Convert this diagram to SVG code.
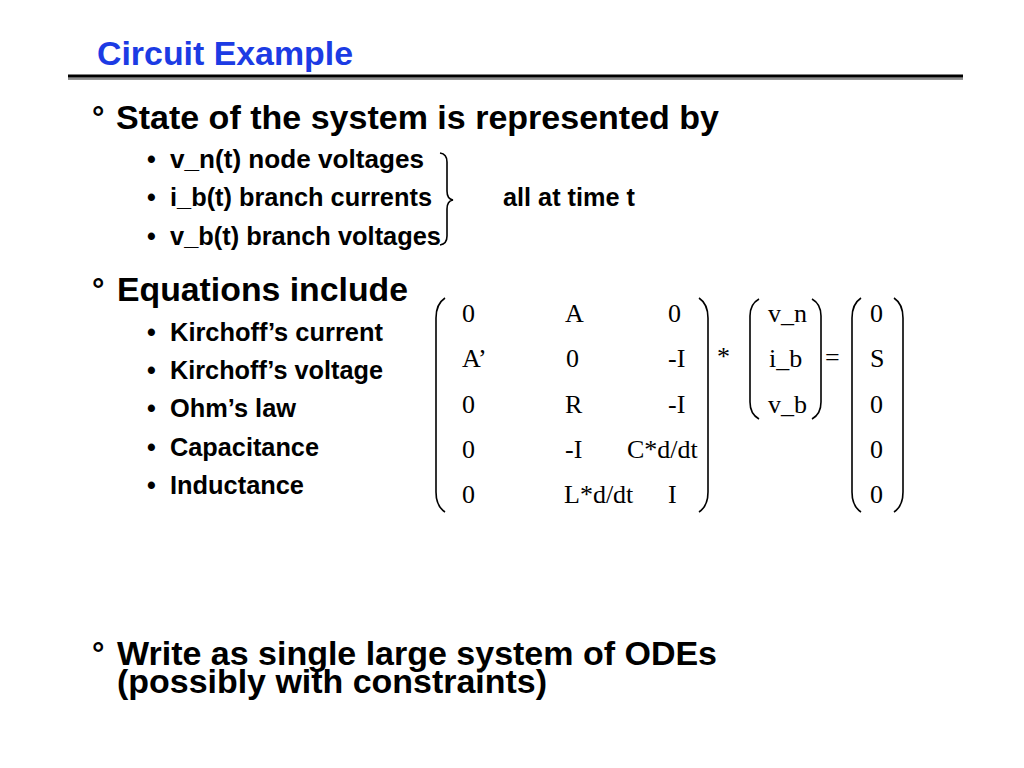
<svg xmlns="http://www.w3.org/2000/svg" width="1024" height="768" viewBox="0 0 1024 768">
<style>
.t{font-family:"Liberation Sans",Arial,sans-serif;font-weight:bold;fill:#000}
.h{font-size:33px}
.d{font-size:31px}
.s{font-size:25px}
.m{font-family:"Liberation Serif","Times New Roman",serif;font-size:26px;fill:#000}
.p{fill:none;stroke:#000;stroke-width:1.6}
</style>
<rect width="1024" height="768" fill="#fff"/>
<g id="title">
<text x="97" y="65" font-family="Liberation Sans,Arial,sans-serif" font-weight="bold" font-size="34" fill="#1c3be4" textLength="256" lengthAdjust="spacingAndGlyphs">Circuit Example</text>
<rect x="68" y="74.5" width="895" height="3.2" fill="#000"/>
<rect x="68" y="77.7" width="895" height="2.2" fill="#8a8a8a"/>
</g>
<g id="bullet1">
<text class="t d" x="92" y="128">°</text>
<text class="t h" x="116" y="129" textLength="603" lengthAdjust="spacingAndGlyphs">State of the system is represented by</text>
<text class="t s" x="147" y="168">•</text>
<text class="t s" x="170" y="168" textLength="254" lengthAdjust="spacingAndGlyphs">v_n(t)  node voltages</text>
<text class="t s" x="147" y="206">•</text>
<text class="t s" x="170" y="206" textLength="262" lengthAdjust="spacingAndGlyphs">i_b(t) branch currents</text>
<text class="t s" x="147" y="245">•</text>
<text class="t s" x="170" y="245" textLength="271" lengthAdjust="spacingAndGlyphs">v_b(t) branch voltages</text>
<path class="p" d="M440 153 Q447 154 447 162 L447 191 Q447 199 453 200 Q447 201 447 209 L447 236 Q447 244 440 245"/>
<text class="t s" x="503" y="206" textLength="132" lengthAdjust="spacingAndGlyphs">all at time t</text>
</g>
<g id="bullet2">
<text class="t d" x="92" y="300">°</text>
<text class="t h" x="117" y="301" textLength="291" lengthAdjust="spacingAndGlyphs">Equations include</text>
<text class="t s" x="147" y="341">•</text>
<text class="t s" x="170" y="341" textLength="213" lengthAdjust="spacingAndGlyphs">Kirchoff’s current</text>
<text class="t s" x="147" y="379">•</text>
<text class="t s" x="170" y="379" textLength="213" lengthAdjust="spacingAndGlyphs">Kirchoff’s voltage</text>
<text class="t s" x="147" y="417">•</text>
<text class="t s" x="170" y="417" textLength="126" lengthAdjust="spacingAndGlyphs">Ohm’s law</text>
<text class="t s" x="147" y="456">•</text>
<text class="t s" x="170" y="456" textLength="149" lengthAdjust="spacingAndGlyphs">Capacitance</text>
<text class="t s" x="147" y="494">•</text>
<text class="t s" x="170" y="494" textLength="134" lengthAdjust="spacingAndGlyphs">Inductance</text>
</g>
<g id="matrix">
<path class="p" d="M445 298 Q436 304 436 318 L436 492 Q436 506 445 512"/>
<path class="p" d="M699 298 Q708 304 708 318 L708 492 Q708 506 699 512"/>
<text class="m" x="462" y="322">0</text>
<text class="m" x="565" y="322">A</text>
<text class="m" x="668" y="322">0</text>
<text class="m" x="462" y="367">A’</text>
<text class="m" x="566" y="367">0</text>
<text class="m" x="668" y="367">-I</text>
<text class="m" x="462" y="413">0</text>
<text class="m" x="565" y="413">R</text>
<text class="m" x="668" y="413">-I</text>
<text class="m" x="462" y="458">0</text>
<text class="m" x="565" y="458">-I</text>
<text class="m" x="627" y="458">C*d/dt</text>
<text class="m" x="462" y="503">0</text>
<text class="m" x="564" y="503">L*d/dt</text>
<text class="m" x="668" y="503">I</text>
</g>
<g id="times">
<text class="m" x="717" y="365">*</text>
</g>
<g id="vector">
<path class="p" d="M759 299 Q750 304 750 316 L750 402 Q750 414 759 419"/>
<path class="p" d="M812 299 Q821 304 821 316 L821 402 Q821 414 812 419"/>
<text class="m" x="768" y="322">v_n</text>
<text class="m" x="769" y="367">i_b</text>
<text class="m" x="768" y="413">v_b</text>
</g>
<g id="equals">
<text class="m" x="825" y="366">=</text>
</g>
<g id="rhs">
<path class="p" d="M861 298 Q852 304 852 318 L852 492 Q852 506 861 512"/>
<path class="p" d="M894 298 Q903 304 903 318 L903 492 Q903 506 894 512"/>
<text class="m" x="870" y="322">0</text>
<text class="m" x="870" y="367">S</text>
<text class="m" x="870" y="413">0</text>
<text class="m" x="870" y="458">0</text>
<text class="m" x="870" y="503">0</text>
</g>
<g id="bullet3">
<text class="t d" x="92" y="664">°</text>
<text class="t h" x="117" y="665" textLength="600" lengthAdjust="spacingAndGlyphs">Write as single large system of ODEs</text>
<text class="t h" x="117" y="693" textLength="430" lengthAdjust="spacingAndGlyphs">(possibly with constraints)</text>
</g>
</svg>
